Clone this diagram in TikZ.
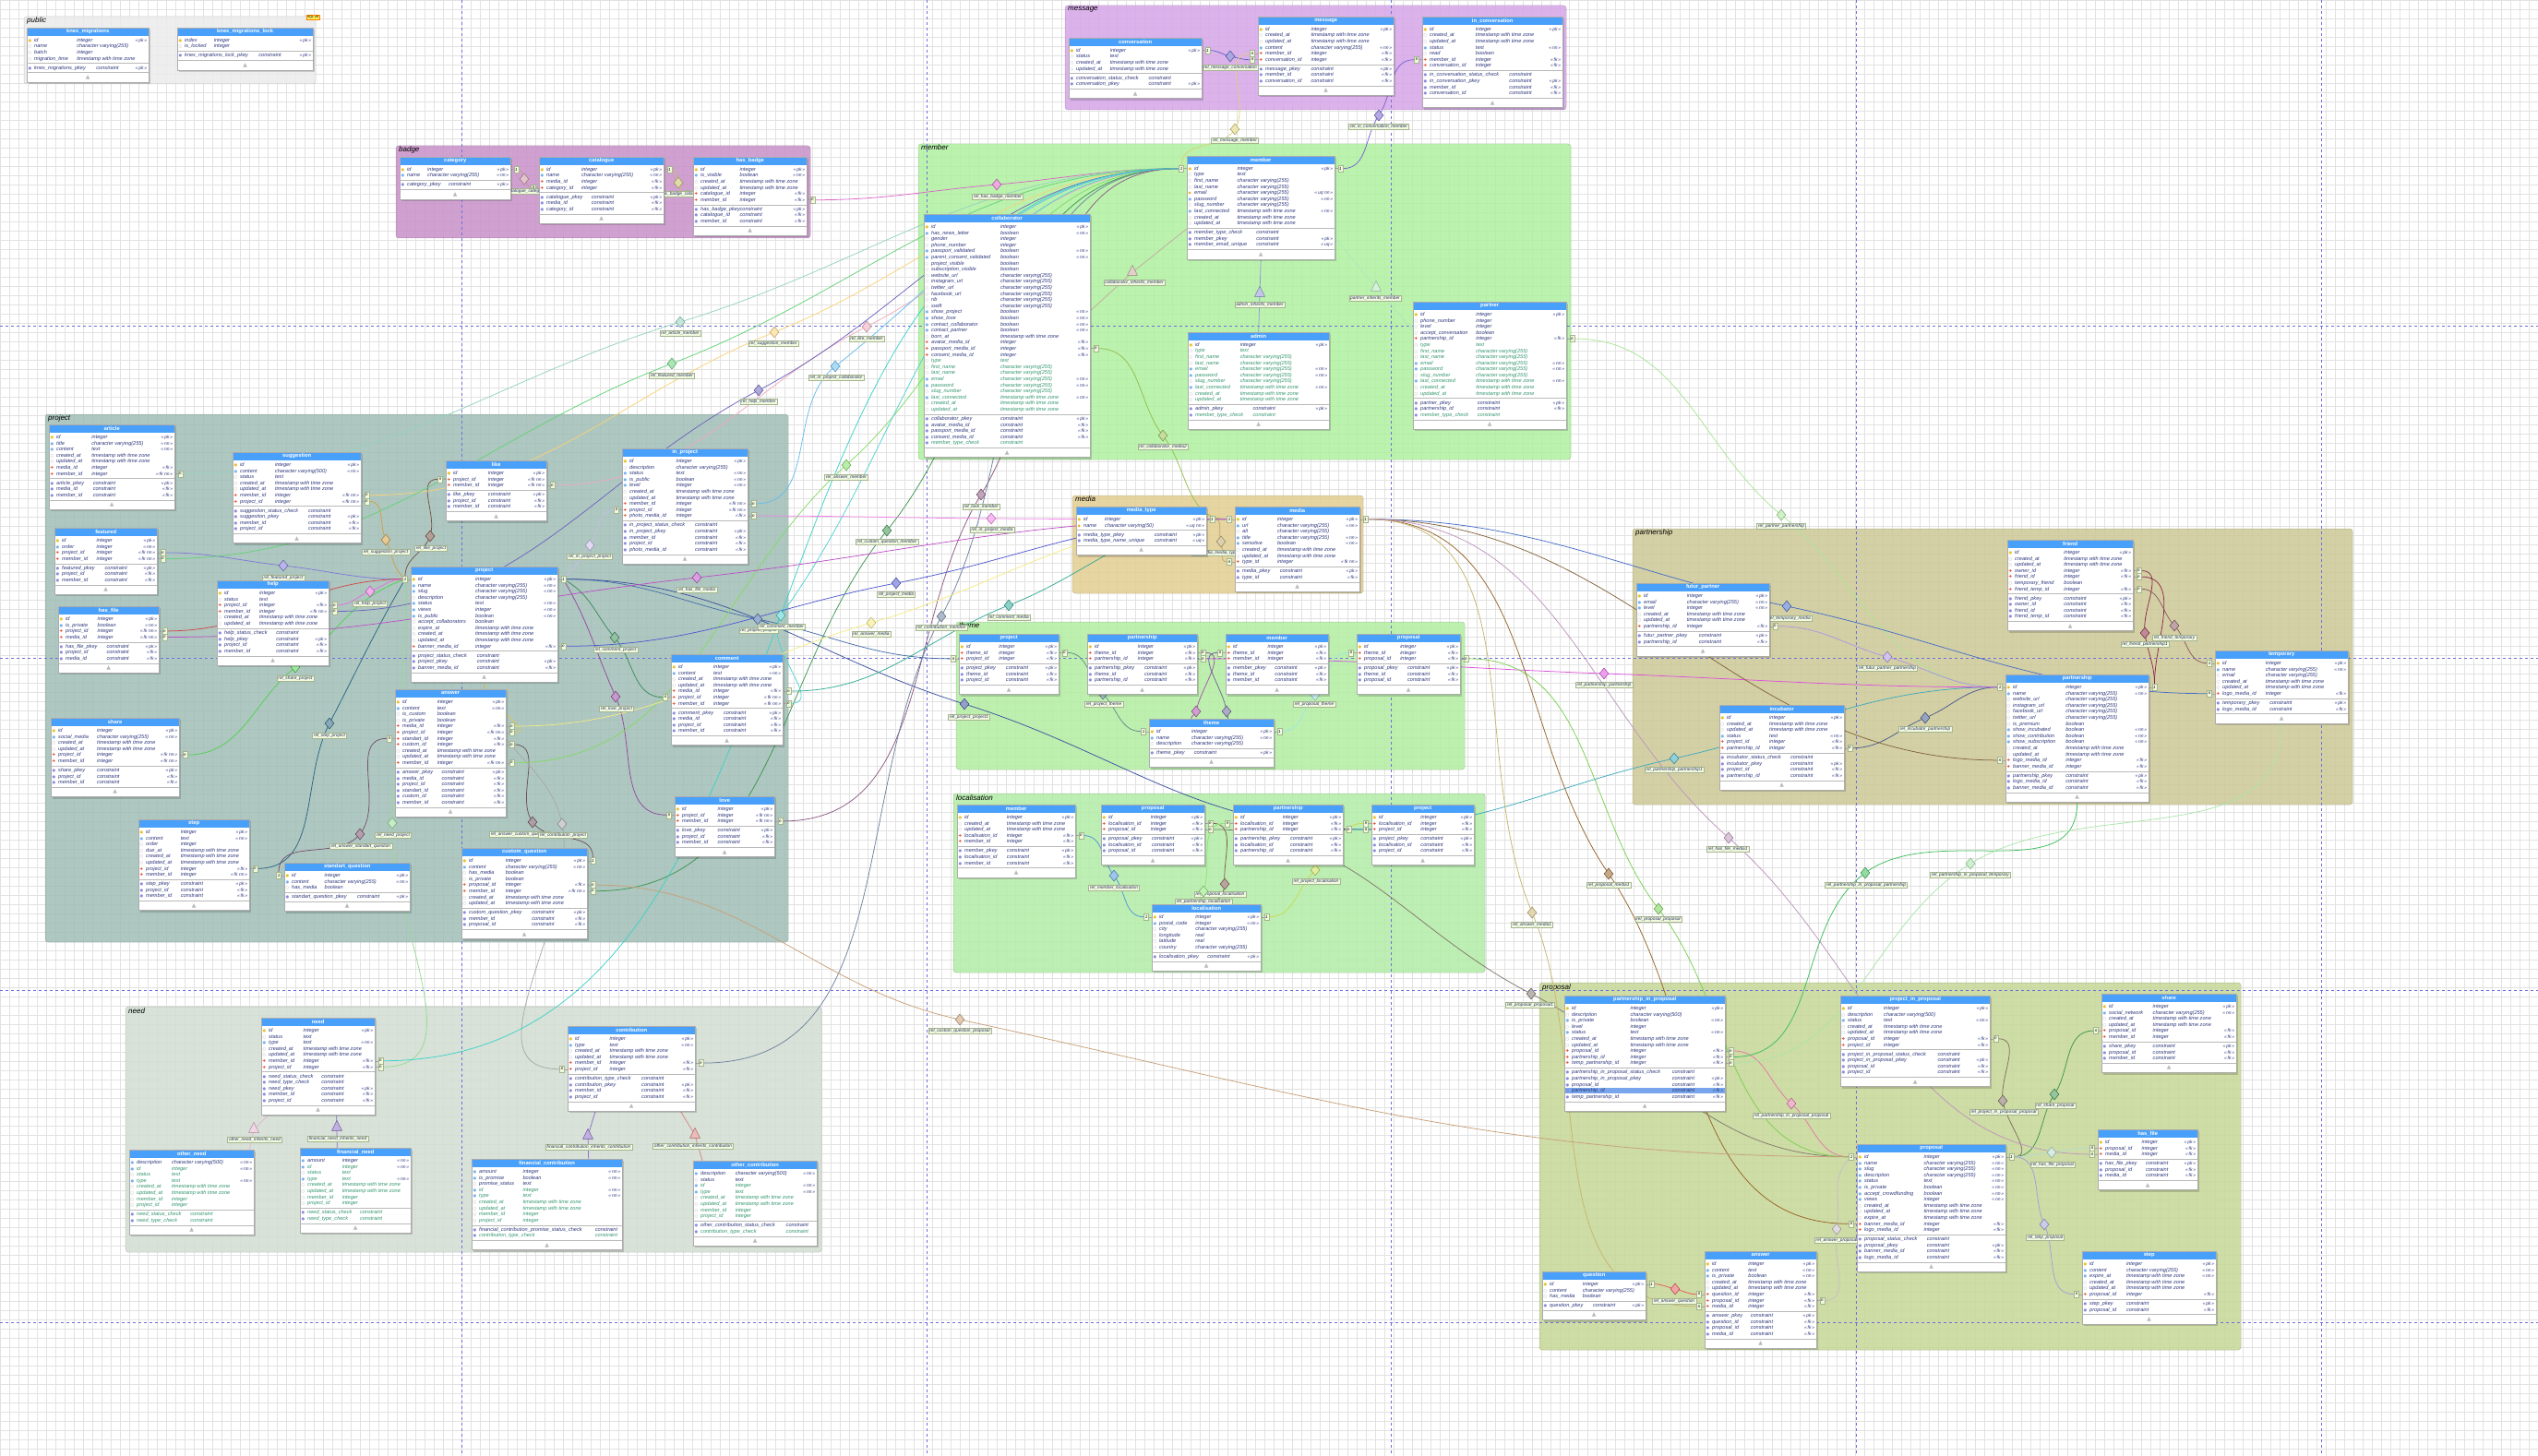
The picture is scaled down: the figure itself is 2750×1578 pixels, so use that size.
\documentclass[tikz,border=0pt]{standalone}
\usepackage{fontspec}
\setmainfont{Liberation Sans}
\newfontfamily\djf{DejaVu Sans}
\usetikzlibrary{shapes.geometric,calc}
\pgfdeclarelayer{gridl}
\pgfdeclarelayer{grp}
\pgfdeclarelayer{lines}
\pgfdeclarelayer{marks}
\pgfdeclarelayer{shad}
\pgfsetlayers{gridl,grp,lines,marks,shad,main}
\newcommand\mkcol[2]{\definecolor{#1}{RGB}{#2}}
\mkcol{hdr}{72,160,250}
\mkcol{tcol}{45,55,125}
\mkcol{grc}{50,150,110}
\mkcol{keyc}{235,195,40}
\mkcol{fkc}{230,85,55}
\mkcol{nnc}{120,180,240}
\mkcol{ordc}{160,160,160}
\mkcol{uqc}{245,170,20}
\mkcol{cnc}{140,140,225}
\mkcol{hlc}{120,165,235}
\mkcol{labf}{242,250,222}
\mkcol{labd}{165,180,145}
\mkcol{gridc}{226,226,226}
\mkcol{pagec}{110,110,220}
\mkcol{gpub}{236,236,236}
\mkcol{gbad}{200,145,200}
\mkcol{gmsg}{214,165,232}
\mkcol{gmem}{175,240,160}
\mkcol{gprj}{160,190,182}
\mkcol{gmed}{226,205,145}
\mkcol{gthm}{178,238,162}
\mkcol{gloc}{178,236,166}
\mkcol{gpsh}{205,200,150}
\mkcol{gprp}{198,215,150}
\mkcol{gned}{210,222,210}
\mkcol{c01}{200,150,160}\mkcol{c02}{200,190,100}\mkcol{c03}{220,100,200}\mkcol{c04}{100,100,200}
\mkcol{c05}{220,210,120}\mkcol{c06}{120,100,210}\mkcol{ci1}{200,170,160}\mkcol{ci2}{150,150,220}
\mkcol{ci3}{180,230,190}\mkcol{c07}{150,190,80}\mkcol{c08}{170,230,150}\mkcol{c09}{210,160,70}
\mkcol{c10}{130,120,220}\mkcol{c11}{230,110,220}\mkcol{c12}{210,70,70}\mkcol{c13}{80,210,80}
\mkcol{c14}{40,100,130}\mkcol{c15}{120,80,70}\mkcol{c16}{200,190,230}\mkcol{c17}{60,140,90}
\mkcol{c18}{150,70,160}\mkcol{c19}{70,110,170}\mkcol{c20}{60,80,160}\mkcol{c21}{150,220,150}
\mkcol{c22}{120,80,110}\mkcol{c23}{110,80,90}\mkcol{c24}{170,170,170}\mkcol{c25}{150,210,190}
\mkcol{c26}{250,210,120}\mkcol{c27}{240,170,190}\mkcol{c28}{100,210,120}\mkcol{c29}{100,190,240}
\mkcol{c30}{110,100,190}\mkcol{c31}{130,220,100}\mkcol{c32}{60,150,80}\mkcol{c33}{80,210,210}
\mkcol{c34}{140,90,130}\mkcol{c35}{110,130,160}\mkcol{c36}{60,210,200}\mkcol{c37}{220,200,80}
\mkcol{c38}{245,235,130}\mkcol{c39}{50,170,150}\mkcol{c40}{80,90,210}\mkcol{c41}{240,130,230}
\mkcol{c42}{190,80,200}\mkcol{c43}{190,170,110}\mkcol{c44}{100,140,140}\mkcol{c45}{170,80,170}
\mkcol{c46}{110,100,150}\mkcol{c47}{160,230,230}\mkcol{c48}{80,150,220}\mkcol{c49}{130,90,80}
\mkcol{c50}{140,230,120}\mkcol{c51}{200,220,80}\mkcol{c52}{170,150,230}\mkcol{c53}{70,110,200}
\mkcol{c54}{70,90,140}\mkcol{c55}{60,170,190}\mkcol{c56}{220,80,220}\mkcol{c57}{140,40,70}
\mkcol{c58}{140,90,100}\mkcol{c59}{130,100,60}\mkcol{c61}{230,120,170}\mkcol{c62}{130,110,100}
\mkcol{c63}{60,150,80}\mkcol{c64}{180,220,210}\mkcol{c65}{160,160,220}\mkcol{c66}{200,190,200}
\mkcol{c67}{230,90,90}\mkcol{c68}{130,120,110}\mkcol{c69}{120,210,80}\mkcol{c70}{150,100,40}
\mkcol{c71}{200,180,110}\mkcol{c72}{190,150,190}\mkcol{c73}{60,190,90}\mkcol{c74}{170,230,170}
\mkcol{c75}{200,160,120}\mkcol{ci4}{230,180,210}\mkcol{ci5}{140,110,200}\mkcol{ci6}{140,110,200}
\mkcol{ci7}{220,130,130}
\newlength\tW \newlength\tA \newlength\tB \newlength\tAA \newlength\tBB
\def\rcol{tcol}
\newcommand\gon[1]{{\def\rcol{grc}#1}}
\newcommand\tg[1]{\ifx\relax#1\relax\else«\,#1\,»\fi}
\newcommand\ico[2]{\makebox[6.5pt][l]{\textcolor{#1}{\djf\upshape\fontsize{4.2}{5}\selectfont#2}}}
\newcommand\rowx[5]{\hbox to\tW{\vrule height4.8pt depth1.8pt width0pt\kern1.5pt\ico{#1}{#2}\makebox[\tA][l]{\textcolor{\rcol}{#3}}\makebox[\tB][l]{\textcolor{\rcol}{#4}}\hfill{\fontsize{5}{6}\selectfont\textcolor{tcol}{\tg{#5}}}\kern2pt}}
\newcommand\rK[3]{\rowx{keyc}{\char"25CF}{#1}{#2}{#3}}
\newcommand\rN[3]{\rowx{nnc}{\char"25CF}{#1}{#2}{#3}}
\newcommand\rO[3]{\rowx{ordc}{\char"25CB}{#1}{#2}{#3}}
\newcommand\rF[3]{\rowx{fkc}{\char"271A}{#1}{#2}{#3}}
\newcommand\rU[3]{\rowx{uqc}{\char"25C6}{#1}{#2}{#3}}
\newcommand\rC[2]{\hbox to\tW{\vrule height4.8pt depth1.8pt width0pt\kern1.5pt\ico{cnc}{\char"25CF}\makebox[\tAA][l]{\textcolor{\rcol}{#1}}\makebox[\tBB][l]{\textcolor{\rcol}{constraint}}\hfill{\fontsize{5}{6}\selectfont\textcolor{tcol}{\tg{#2}}}\kern2pt}}
\newcommand\rCh[2]{\hbox{\fboxsep0pt\colorbox{hlc}{\rC{#1}{#2}}}}
\newcommand\tyI{integer}
\newcommand\tyV{character varying(255)}
\newcommand\tyW{character varying(500)}
\newcommand\tyT{timestamp with time zone}
\newcommand\tyX{text}
\newcommand\tyB{boolean}
\newcommand\tbl[9]{%
\pgfmathsetlength\tW{#4}\pgfmathsetlength\tA{#4*#5-8}\pgfmathsetlength\tB{#4*(1-#5)-22}%
\pgfmathsetlength\tAA{#4*#6-8}\pgfmathsetlength\tBB{#4*(1-#6)-22}%
\node[thead,minimum width=#4] (#1-h) at (#2,#3) {#7};
\node[tbody] (#1) at (#1-h.south west) {\vbox{\offinterlineskip#8}};
\node[tbody] (#1-c) at (#1.south west) {\vbox{\offinterlineskip#9}};
\node[tfoot,minimum width=#4] (#1-f) at (#1-c.south west) {\djf\fontsize{6}{6}\selectfont\char"25B2};
\begin{pgfonlayer}{shad}\fill[black,opacity=.16] ($(#1-h.north west)+(2,2)$) rectangle ($(#1-f.south east)+(2,2)$);\end{pgfonlayer}
\draw[tline] (#1-h.north west) rectangle (#1-f.south east);
\draw[tsep] (#1.south west) -- (#1.south east) (#1-c.south west) -- (#1-c.south east);
}
\newcommand\grp[7]{\begin{pgfonlayer}{grp}\fill[#6,rounded corners=3pt,fill opacity=.85] (#2,#3) rectangle (#4,#5);\draw[#6!70!black,rounded corners=3pt,line width=.5,opacity=.5] (#2,#3) rectangle (#4,#5);\node[glab] (#1) at (#2+3,#3+1) {#7};\end{pgfonlayer}}
\newcommand\dia[7]{\begin{pgfonlayer}{marks}\node[dmd,fill=#4!55!white,draw=#4!75!black] (#1) at (#2,#3) {};\node[rlab] (#1l) at (#6,#7) {#5};\end{pgfonlayer}}
\newcommand\dian[4]{\begin{pgfonlayer}{marks}\node[dmd,fill=#4!55!white,draw=#4!75!black] (#1) at (#2,#3) {};\end{pgfonlayer}}
\newcommand\trg[7]{\begin{pgfonlayer}{marks}\node[trgs,fill=#4!55!white,draw=#4!75!black] (#1) at (#2,#3) {};\node[rlab] (#1l) at (#6,#7) {#5};\end{pgfonlayer}}
\newcommand\mke[4]{\begin{pgfonlayer}{marks}\node[mkr] (#1) at ($(#2.north east)+(6,{1.5+(#3-0.5)*6.6})$) {#4};\draw[mks] (#1.west) -- ++(-3.5,0);\end{pgfonlayer}}
\newcommand\mkw[4]{\begin{pgfonlayer}{marks}\node[mkr] (#1) at ($(#2.north west)+(-6,{1.5+(#3-0.5)*6.6})$) {#4};\draw[mks] (#1.east) -- ++(3.5,0);\end{pgfonlayer}}
\newcommand\rel[6]{\begin{pgfonlayer}{lines}\draw[rl,#1] let \p1=(#2),\p2=(#5),\n1={atan2((\y2)-(\y1),(\x2)-(\x1))},\n2={\n1+180} in (#2) to[out=#3,in=\n2] (#4.center) to[out=\n1,in=#6] (#5);\end{pgfonlayer}}
\newcommand\reln[5]{\begin{pgfonlayer}{lines}\draw[rl,#1] (#2) to[out=#3,in=#5] (#4);\end{pgfonlayer}}
\newcommand\inh[4]{\begin{pgfonlayer}{lines}\draw[rl,#1] (#2) -- (#3.center) -- (#4);\end{pgfonlayer}}
\begin{document}
\catcode`\_=12
\newcommand\meminh{\rO{type}{\tyX}{}\rO{first_name}{\tyV}{}\rO{last_name}{\tyV}{}\rN{email}{\tyV}{nn}\rN{password}{\tyV}{nn}\rO{slug_number}{\tyV}{}\rN{last_connected}{\tyT}{nn}\rO{created_at}{\tyT}{}\rO{updated_at}{\tyT}{}}
\newcommand\needinh{\rN{id}{\tyI}{nn}\rO{status}{\tyX}{}\rN{type}{\tyX}{nn}\rO{created_at}{\tyT}{}\rO{updated_at}{\tyT}{}\rO{member_id}{\tyI}{}\rO{project_id}{\tyI}{}}
\newcommand\ctbinh{\rN{id}{\tyI}{nn}\rN{type}{\tyX}{nn}\rO{created_at}{\tyT}{}\rO{updated_at}{\tyT}{}\rO{member_id}{\tyI}{}\rO{project_id}{\tyI}{}}
\begin{tikzpicture}[x=1pt,y=-1pt,
thead/.style={rectangle,fill=hdr,text=white,font=\bfseries\fontsize{5.8}{6}\selectfont,minimum height=8.5,inner sep=0,anchor=north west},
tbody/.style={rectangle,fill=white,inner xsep=0,inner ysep=1.5,anchor=north west,font=\itshape\fontsize{5.6}{6.6}\selectfont},
tfoot/.style={rectangle,fill=white,text=gray!55,minimum height=10,inner sep=0,anchor=north west},
tline/.style={draw=gray!65,line width=.5},
tsep/.style={draw=gray!55,line width=.4},
glab/.style={anchor=north west,inner sep=0,font=\itshape\fontsize{8}{9}\selectfont},
dmd/.style={diamond,minimum width=10,minimum height=12,inner sep=0,line width=.5},
trgs/.style={isosceles triangle,shape border rotate=90,isosceles triangle stretches,minimum width=11,minimum height=11,inner sep=0,line width=.5},
rlab/.style={fill=labf,draw=labd,line width=.3,inner xsep=1.5,inner ysep=.8,font=\itshape\fontsize{4.8}{5}\selectfont,text=tcol!80!black},
mkr/.style={fill=labf,draw=labd,line width=.3,inner sep=.6,minimum width=5,minimum height=7,font=\itshape\fontsize{4.5}{5}\selectfont},
mks/.style={draw=gray!70,line width=.4},
rl/.style={line width=.75}]
\useasboundingbox (0,0) rectangle (2750,1578);
\begin{pgfonlayer}{gridl}
\fill[white] (0,0) rectangle (2750,1578);
\draw[gridc,line width=.4,step=10pt] (0,1578) grid (2750,0);
\end{pgfonlayer}
\begin{pgfonlayer}{lines}
\foreach \px in {500,1004,1507,2011,2515} {\draw[pagec,dashed,line width=.5] (\px,0) -- (\px,1578);}
\foreach \py in {353,713,1073,1433} {\draw[pagec,dashed,line width=.5] (0,\py) -- (2750,\py);}
\end{pgfonlayer}
% groups
\grp{Gpub}{26}{18}{342}{91}{gpub}{public}
\grp{Gbad}{429}{158}{878}{258}{gbad}{badge}
\grp{Gmsg}{1154}{6}{1697}{119}{gmsg}{message}
\grp{Gmem}{995}{156}{1702}{498}{gmem}{member}
\grp{Gprj}{49}{449}{854}{1021}{gprj}{project}
\grp{Gmed}{1162}{537}{1477}{643}{gmed}{media}
\grp{Gthm}{1036}{674}{1587}{834}{gthm}{theme}
\grp{Gloc}{1033}{860}{1609}{1054}{gloc}{localisation}
\grp{Gpsh}{1769}{573}{2549}{872}{gpsh}{partnership}
\grp{Gprp}{1668}{1065}{2428}{1463}{gprp}{proposal}
\grp{Gned}{136}{1091}{890}{1357}{gned}{need}
\node[fill={rgb,255:red,250;green,235;blue,90},draw=orange,font=\fontsize{3.5}{4}\selectfont,inner sep=.8pt] (sqloff) at (339,18.5) {SQL off};
% ---------- public / badge / message
\tbl{kx}{29}{30}{132}{0.41}{0.57}{knex_migrations}{\rK{id}{\tyI}{pk}\rO{name}{\tyV}{}\rO{batch}{\tyI}{}\rO{migration_time}{\tyT}{}}{\rC{knex_migrations_pkey}{pk}}
\tbl{kxl}{192}{30}{147}{0.27}{0.6}{knex_migrations_lock}{\rK{index}{\tyI}{pk}\rO{is_locked}{\tyI}{}}{\rC{knex_migrations_lock_pkey}{pk}}
\tbl{cat}{433}{170}{120}{0.25}{0.44}{category}{\rK{id}{\tyI}{pk}\rN{name}{\tyV}{nn}}{\rC{category_pkey}{pk}}
\tbl{ctl}{584}{170}{135}{0.34}{0.42}{catalogue}{\rK{id}{\tyI}{pk}\rN{name}{\tyV}{nn}\rF{media_id}{\tyI}{fk}\rF{category_id}{\tyI}{fk}}{\rC{catalogue_pkey}{pk}\rC{media_id}{fk}\rC{category_id}{fk}}
\tbl{hb}{751}{170}{123}{0.41}{0.41}{has_badge}{\rK{id}{\tyI}{pk}\rN{is_visible}{\tyB}{nn}\rO{created_at}{\tyT}{}\rO{updated_at}{\tyT}{}\rF{catalogue_id}{\tyI}{fk}\rF{member_id}{\tyI}{fk}}{\rC{has_badge_pkey}{pk}\rC{catalogue_id}{fk}\rC{member_id}{fk}}
\tbl{conv}{1158}{41}{144}{0.31}{0.6}{conversation}{\rK{id}{\tyI}{pk}\rO{status}{\tyX}{}\rO{created_at}{\tyT}{}\rO{updated_at}{\tyT}{}}{\rC{conversation_status_check}{}\rC{conversation_pkey}{pk}}
\tbl{msg}{1363}{18}{147}{0.39}{0.39}{message}{\rK{id}{\tyI}{pk}\rO{created_at}{\tyT}{}\rO{updated_at}{\tyT}{}\rN{content}{\tyV}{nn}\rF{member_id}{\tyI}{fk}\rF{conversation_id}{\tyI}{fk}}{\rC{message_pkey}{pk}\rC{member_id}{fk}\rC{conversation_id}{fk}}
\tbl{inc}{1541}{18}{152}{0.38}{0.62}{in_conversation}{\rK{id}{\tyI}{pk}\rO{created_at}{\tyT}{}\rO{updated_at}{\tyT}{}\rN{status}{\tyX}{nn}\rO{read}{\tyB}{}\rF{member_id}{\tyI}{fk}\rF{conversation_id}{\tyI}{fk}}{\rC{in_conversation_status_check}{}\rC{in_conversation_pkey}{pk}\rC{member_id}{fk}\rC{conversation_id}{fk}}
% ---------- member
\tbl{mem}{1286}{169}{160}{0.34}{0.47}{member}{\rK{id}{\tyI}{pk}\rO{type}{\tyX}{}\rO{first_name}{\tyV}{}\rO{last_name}{\tyV}{}\rU{email}{\tyV}{uq nn}\rN{password}{\tyV}{nn}\rO{slug_number}{\tyV}{}\rN{last_connected}{\tyT}{nn}\rO{created_at}{\tyT}{}\rO{updated_at}{\tyT}{}}{\rC{member_type_check}{}\rC{member_pkey}{pk}\rC{member_email_unique}{uq}}
\tbl{col}{1001}{232}{180}{0.46}{0.46}{collaborator}{\rK{id}{\tyI}{pk}\rN{has_news_letter}{\tyB}{nn}\rO{gender}{\tyI}{}\rO{phone_number}{\tyI}{}\rN{passport_validated}{\tyB}{nn}\rN{parent_consent_validated}{\tyB}{nn}\rO{project_visible}{\tyB}{}\rO{subscription_visible}{\tyB}{}\rO{website_url}{\tyV}{}\rO{instagram_url}{\tyV}{}\rO{twitter_url}{\tyV}{}\rO{facebook_url}{\tyV}{}\rO{rib}{\tyV}{}\rO{swift}{\tyV}{}\rN{show_project}{\tyB}{nn}\rN{show_love}{\tyB}{nn}\rN{contact_collaborator}{\tyB}{nn}\rN{contact_partner}{\tyB}{nn}\rO{born_at}{\tyT}{}\rF{avatar_media_id}{\tyI}{fk}\rF{passport_media_id}{\tyI}{fk}\rF{consent_media_id}{\tyI}{fk}\gon{\meminh}}{\rC{collaborator_pkey}{pk}\rC{avatar_media_id}{fk}\rC{passport_media_id}{fk}\rC{consent_media_id}{fk}\gon{\rC{member_type_check}{}}}
\tbl{adm}{1287}{360}{153}{0.37}{0.46}{admin}{\rK{id}{\tyI}{pk}\gon{\meminh}}{\rC{admin_pkey}{pk}\gon{\rC{member_type_check}{}}}
\tbl{ptn}{1531}{327}{166}{0.41}{0.42}{partner}{\rK{id}{\tyI}{pk}\rO{phone_number}{\tyI}{}\rO{level}{\tyI}{}\rO{accept_conversation}{\tyB}{}\rF{partnership_id}{\tyI}{fk}\gon{\meminh}}{\rC{partner_pkey}{pk}\rC{partnership_id}{fk}\gon{\rC{member_type_check}{}}}
% ---------- project
\tbl{art}{53}{460}{136}{0.34}{0.35}{article}{\rK{id}{\tyI}{pk}\rN{title}{\tyV}{nn}\rN{content}{\tyX}{nn}\rO{created_at}{\tyT}{}\rO{updated_at}{\tyT}{}\rF{media_id}{\tyI}{fk}\rF{member_id}{\tyI}{fk nn}}{\rC{article_pkey}{pk}\rC{media_id}{fk}\rC{member_id}{fk}}
\tbl{sug}{252}{490}{139}{0.33}{0.59}{suggestion}{\rK{id}{\tyI}{pk}\rN{content}{\tyW}{nn}\rO{status}{\tyX}{}\rO{created_at}{\tyT}{}\rO{updated_at}{\tyT}{}\rF{member_id}{\tyI}{fk nn}\rF{project_id}{\tyI}{fk nn}}{\rC{suggestion_status_check}{}\rC{suggestion_pkey}{pk}\rC{member_id}{fk}\rC{project_id}{fk}}
\tbl{fea}{59}{572}{111}{0.41}{0.49}{featured}{\rK{id}{\tyI}{pk}\rN{order}{\tyI}{nn}\rF{project_id}{\tyI}{fk nn}\rF{member_id}{\tyI}{fk nn}}{\rC{featured_pkey}{pk}\rC{project_id}{fk}\rC{member_id}{fk}}
\tbl{hf}{63}{657}{109}{0.39}{0.48}{has_file}{\rK{id}{\tyI}{pk}\rN{is_private}{\tyB}{nn}\rF{project_id}{\tyI}{fk nn}\rF{media_id}{\tyI}{fk nn}}{\rC{has_file_pkey}{pk}\rC{project_id}{fk}\rC{media_id}{fk}}
\tbl{hlp}{235}{629}{121}{0.38}{0.53}{help}{\rK{id}{\tyI}{pk}\rO{status}{\tyX}{}\rF{project_id}{\tyI}{fk}\rF{member_id}{\tyI}{fk nn}\rO{created_at}{\tyT}{}\rO{updated_at}{\tyT}{}}{\rC{help_status_check}{}\rC{help_pkey}{pk}\rC{project_id}{fk}\rC{member_id}{fk}}
\tbl{shr}{55}{778}{139}{0.36}{0.36}{share}{\rK{id}{\tyI}{pk}\rN{social_media}{\tyV}{nn}\rO{created_at}{\tyT}{}\rO{updated_at}{\tyT}{}\rF{project_id}{\tyI}{fk nn}\rF{member_id}{\tyI}{fk nn}}{\rC{share_pkey}{pk}\rC{project_id}{fk}\rC{member_id}{fk}}
\tbl{stp}{150}{888}{120}{0.38}{0.38}{step}{\rK{id}{\tyI}{pk}\rN{content}{\tyX}{nn}\rO{order}{\tyI}{}\rO{due_at}{\tyT}{}\rO{created_at}{\tyT}{}\rO{updated_at}{\tyT}{}\rF{project_id}{\tyI}{fk}\rF{member_id}{\tyI}{fk nn}}{\rC{step_pkey}{pk}\rC{project_id}{fk}\rC{member_id}{fk}}
\tbl{sq}{308}{935}{136}{0.32}{0.58}{standart_question}{\rK{id}{\tyI}{pk}\rN{content}{\tyV}{nn}\rO{has_media}{\tyB}{}}{\rC{standart_question_pkey}{pk}}
\tbl{lik}{483}{499}{109}{0.42}{0.42}{like}{\rK{id}{\tyI}{pk}\rF{project_id}{\tyI}{fk nn}\rF{member_id}{\tyI}{fk nn}}{\rC{like_pkey}{pk}\rC{project_id}{fk}\rC{member_id}{fk}}
\tbl{inp}{674}{486}{136}{0.43}{0.58}{in_project}{\rK{id}{\tyI}{pk}\rO{description}{\tyV}{}\rN{status}{\tyX}{nn}\rN{is_public}{\tyB}{nn}\rN{level}{\tyI}{nn}\rO{created_at}{\tyT}{}\rO{updated_at}{\tyT}{}\rF{member_id}{\tyI}{fk nn}\rF{project_id}{\tyI}{fk nn}\rF{photo_media_id}{\tyI}{fk}}{\rC{in_project_status_check}{}\rC{in_project_pkey}{pk}\rC{member_id}{fk}\rC{project_id}{fk}\rC{photo_media_id}{fk}}
\tbl{prj}{445}{614}{159}{0.44}{0.45}{project}{\rK{id}{\tyI}{pk}\rN{name}{\tyV}{nn}\rN{slug}{\tyV}{nn}\rO{description}{\tyV}{}\rN{status}{\tyX}{nn}\rN{views}{\tyI}{nn}\rN{is_public}{\tyB}{nn}\rO{accept_collaborators}{\tyB}{}\rO{expire_at}{\tyT}{}\rO{created_at}{\tyT}{}\rO{updated_at}{\tyT}{}\rF{banner_media_id}{\tyI}{fk}}{\rC{project_status_check}{}\rC{project_pkey}{pk}\rC{banner_media_id}{fk}}
\tbl{ans}{428}{747}{120}{0.38}{0.42}{answer}{\rK{id}{\tyI}{pk}\rN{content}{\tyX}{nn}\rO{is_custom}{\tyB}{}\rO{is_private}{\tyB}{}\rF{media_id}{\tyI}{fk}\rF{project_id}{\tyI}{fk nn}\rF{standart_id}{\tyI}{fk}\rF{custom_id}{\tyI}{fk}\rO{created_at}{\tyT}{}\rO{updated_at}{\tyT}{}\rF{member_id}{\tyI}{fk nn}}{\rC{answer_pkey}{pk}\rC{media_id}{fk}\rC{project_id}{fk}\rC{standart_id}{fk}\rC{custom_id}{fk}\rC{member_id}{fk}}
\tbl{cmt}{727}{709}{121}{0.38}{0.47}{comment}{\rK{id}{\tyI}{pk}\rN{content}{\tyX}{nn}\rO{created_at}{\tyT}{}\rO{updated_at}{\tyT}{}\rF{media_id}{\tyI}{fk}\rF{project_id}{\tyI}{fk nn}\rF{member_id}{\tyI}{fk nn}}{\rC{comment_pkey}{pk}\rC{media_id}{fk}\rC{project_id}{fk}\rC{member_id}{fk}}
\tbl{lov}{731}{863}{108}{0.43}{0.43}{love}{\rK{id}{\tyI}{pk}\rF{project_id}{\tyI}{fk nn}\rF{member_id}{\tyI}{fk nn}}{\rC{love_pkey}{pk}\rC{project_id}{fk}\rC{member_id}{fk}}
\tbl{cq}{500}{919}{136}{0.35}{0.56}{custom_question}{\rK{id}{\tyI}{pk}\rN{content}{\tyV}{nn}\rO{has_media}{\tyB}{}\rO{is_private}{\tyB}{}\rF{proposal_id}{\tyI}{fk}\rF{member_id}{\tyI}{fk nn}\rO{created_at}{\tyT}{}\rO{updated_at}{\tyT}{}}{\rC{custom_question_pkey}{pk}\rC{member_id}{fk}\rC{proposal_id}{fk}}
% ---------- media / theme / localisation
\tbl{mt}{1166}{549}{141}{0.22}{0.6}{media_type}{\rK{id}{\tyI}{pk}\rU{name}{character varying(50)}{uq nn}}{\rC{media_type_pkey}{pk}\rC{media_type_name_unique}{uq}}
\tbl{med}{1338}{549}{135}{0.34}{0.36}{media}{\rK{id}{\tyI}{pk}\rN{url}{\tyV}{nn}\rO{alt}{\tyV}{}\rN{title}{\tyV}{nn}\rN{sensitive}{\tyB}{nn}\rO{created_at}{\tyT}{}\rO{updated_at}{\tyT}{}\rF{type_id}{\tyI}{fk nn}}{\rC{media_pkey}{pk}\rC{type_id}{fk}}
\tbl{tprj}{1039}{687}{108}{0.40}{0.47}{project}{\rK{id}{\tyI}{pk}\rF{theme_id}{\tyI}{fk}\rF{project_id}{\tyI}{fk}}{\rC{project_pkey}{pk}\rC{theme_id}{fk}\rC{project_id}{fk}}
\tbl{tpsh}{1178}{687}{119}{0.46}{0.52}{partnership}{\rK{id}{\tyI}{pk}\rF{theme_id}{\tyI}{fk}\rF{partnership_id}{\tyI}{fk}}{\rC{partnership_pkey}{pk}\rC{theme_id}{fk}\rC{partnership_id}{fk}}
\tbl{tmem}{1328}{687}{111}{0.41}{0.48}{member}{\rK{id}{\tyI}{pk}\rF{theme_id}{\tyI}{fk}\rF{member_id}{\tyI}{fk}}{\rC{member_pkey}{pk}\rC{theme_id}{fk}\rC{member_id}{fk}}
\tbl{tprop}{1470}{687}{112}{0.42}{0.49}{proposal}{\rK{id}{\tyI}{pk}\rF{theme_id}{\tyI}{fk}\rF{proposal_id}{\tyI}{fk}}{\rC{proposal_pkey}{pk}\rC{theme_id}{fk}\rC{proposal_id}{fk}}
\tbl{thm}{1245}{779}{135}{0.34}{0.36}{theme}{\rK{id}{\tyI}{pk}\rN{name}{\tyV}{nn}\rO{description}{\tyV}{}}{\rC{theme_pkey}{pk}}
\tbl{lmem}{1037}{872}{128}{0.42}{0.42}{member}{\rK{id}{\tyI}{pk}\rO{created_at}{\tyT}{}\rO{updated_at}{\tyT}{}\rF{localisation_id}{\tyI}{fk}\rF{member_id}{\tyI}{fk}}{\rC{member_pkey}{pk}\rC{localisation_id}{fk}\rC{member_id}{fk}}
\tbl{lprop}{1193}{872}{112}{0.48}{0.49}{proposal}{\rK{id}{\tyI}{pk}\rF{localisation_id}{\tyI}{fk}\rF{proposal_id}{\tyI}{fk}}{\rC{proposal_pkey}{pk}\rC{localisation_id}{fk}\rC{proposal_id}{fk}}
\tbl{lpsh}{1336}{872}{119}{0.45}{0.52}{partnership}{\rK{id}{\tyI}{pk}\rF{localisation_id}{\tyI}{fk}\rF{partnership_id}{\tyI}{fk}}{\rC{partnership_pkey}{pk}\rC{localisation_id}{fk}\rC{partnership_id}{fk}}
\tbl{lprj}{1486}{872}{111}{0.48}{0.48}{project}{\rK{id}{\tyI}{pk}\rF{localisation_id}{\tyI}{fk}\rF{project_id}{\tyI}{fk}}{\rC{project_pkey}{pk}\rC{localisation_id}{fk}\rC{project_id}{fk}}
\tbl{loc}{1248}{980}{118}{0.40}{0.51}{localisation}{\rK{id}{\tyI}{pk}\rN{postal_code}{\tyI}{nn}\rO{city}{\tyV}{}\rO{longitude}{real}{}\rO{latitude}{real}{}\rO{country}{\tyV}{}}{\rC{localisation_pkey}{pk}}
% ---------- partnership
\tbl{fut}{1773}{632}{144}{0.38}{0.47}{futur_partner}{\rK{id}{\tyI}{pk}\rN{email}{\tyV}{nn}\rN{level}{\tyI}{nn}\rO{created_at}{\tyT}{}\rO{updated_at}{\tyT}{}\rF{partnership_id}{\tyI}{fk}}{\rC{futur_partner_pkey}{pk}\rC{partnership_id}{fk}}
\tbl{frd}{2175}{585}{136}{0.45}{0.45}{friend}{\rK{id}{\tyI}{pk}\rO{created_at}{\tyT}{}\rO{updated_at}{\tyT}{}\rF{owner_id}{\tyI}{fk}\rF{friend_id}{\tyI}{fk}\rO{temporary_friend}{\tyB}{}\rF{friend_temp_id}{\tyI}{fk}}{\rC{friend_pkey}{pk}\rC{owner_id}{fk}\rC{friend_id}{fk}\rC{friend_temp_id}{fk}}
\tbl{tmp}{2400}{705}{144}{0.38}{0.41}{temporary}{\rK{id}{\tyI}{pk}\rN{name}{\tyV}{nn}\rO{email}{\tyV}{}\rO{created_at}{\tyT}{}\rO{updated_at}{\tyT}{}\rF{logo_media_id}{\tyI}{fk}}{\rC{temporary_pkey}{pk}\rC{logo_media_id}{fk}}
\tbl{psh}{2173}{731}{155}{0.42}{0.42}{partnership}{\rK{id}{\tyI}{pk}\rN{name}{\tyV}{nn}\rO{website_url}{\tyV}{}\rO{instagram_url}{\tyV}{}\rO{facebook_url}{\tyV}{}\rO{twitter_url}{\tyV}{}\rO{is_premium}{\tyB}{}\rN{show_incubated}{\tyB}{nn}\rN{show_contribution}{\tyB}{nn}\rN{show_subscription}{\tyB}{nn}\rO{created_at}{\tyT}{}\rO{updated_at}{\tyT}{}\rF{logo_media_id}{\tyI}{fk}\rF{banner_media_id}{\tyI}{fk}}{\rC{partnership_pkey}{pk}\rC{logo_media_id}{fk}\rC{banner_media_id}{fk}}
\tbl{incb}{1863}{764}{135}{0.40}{0.57}{incubator}{\rK{id}{\tyI}{pk}\rO{created_at}{\tyT}{}\rO{updated_at}{\tyT}{}\rN{status}{\tyX}{nn}\rF{project_id}{\tyI}{fk}\rF{partnership_id}{\tyI}{fk}}{\rC{incubator_status_check}{}\rC{incubator_pkey}{pk}\rC{project_id}{fk}\rC{partnership_id}{fk}}
% ---------- proposal
\tbl{pip}{1695}{1079}{174}{0.41}{0.67}{partnership_in_proposal}{\rK{id}{\tyI}{pk}\rO{description}{\tyW}{}\rN{is_private}{\tyB}{nn}\rO{level}{\tyI}{}\rN{status}{\tyX}{nn}\rO{created_at}{\tyT}{}\rO{updated_at}{\tyT}{}\rF{proposal_id}{\tyI}{fk}\rF{partnership_id}{\tyI}{fk}\rF{temp_partnership_id}{\tyI}{fk}}{\rC{partnership_in_proposal_status_check}{}\rC{partnership_in_proposal_pkey}{pk}\rC{proposal_id}{fk}\rCh{partnership_id}{fk}\rC{temp_partnership_id}{fk}}
\tbl{pipr}{1994}{1079}{162}{0.29}{0.65}{project_in_proposal}{\rK{id}{\tyI}{pk}\rO{description}{\tyW}{}\rN{status}{\tyX}{nn}\rO{created_at}{\tyT}{}\rO{updated_at}{\tyT}{}\rF{proposal_id}{\tyI}{fk}\rF{project_id}{\tyI}{fk}}{\rC{project_in_proposal_status_check}{}\rC{project_in_proposal_pkey}{pk}\rC{proposal_id}{fk}\rC{project_id}{fk}}
\tbl{pshr}{2277}{1077}{146}{0.38}{0.38}{share}{\rK{id}{\tyI}{pk}\rN{social_network}{\tyV}{nn}\rO{created_at}{\tyT}{}\rO{updated_at}{\tyT}{}\rF{proposal_id}{\tyI}{fk}\rF{member_id}{\tyI}{fk}}{\rC{share_pkey}{pk}\rC{proposal_id}{fk}\rC{member_id}{fk}}
\tbl{phf}{2273}{1224}{108}{0.44}{0.48}{has_file}{\rK{id}{\tyI}{pk}\rF{proposal_id}{\tyI}{fk}\rF{media_id}{\tyI}{fk}}{\rC{has_file_pkey}{pk}\rC{proposal_id}{fk}\rC{media_id}{fk}}
\tbl{prop}{2012}{1240}{161}{0.45}{0.47}{proposal}{\rK{id}{\tyI}{pk}\rN{name}{\tyV}{nn}\rN{slug}{\tyV}{nn}\rN{description}{\tyV}{nn}\rN{status}{\tyX}{nn}\rN{is_private}{\tyB}{nn}\rN{accept_crowdfunding}{\tyB}{nn}\rN{views}{\tyI}{nn}\rO{created_at}{\tyT}{}\rO{updated_at}{\tyT}{}\rO{expire_at}{\tyT}{}\rF{banner_media_id}{\tyI}{fk}\rF{logo_media_id}{\tyI}{fk}}{\rC{proposal_status_check}{}\rC{proposal_pkey}{pk}\rC{banner_media_id}{fk}\rC{logo_media_id}{fk}}
\tbl{pans}{1847}{1356}{121}{0.39}{0.41}{answer}{\rK{id}{\tyI}{pk}\rN{content}{\tyX}{nn}\rN{is_private}{\tyB}{nn}\rO{created_at}{\tyT}{}\rO{updated_at}{\tyT}{}\rF{question_id}{\tyI}{fk}\rF{proposal_id}{\tyI}{fk}\rF{media_id}{\tyI}{fk}}{\rC{answer_pkey}{pk}\rC{question_id}{fk}\rC{proposal_id}{fk}\rC{media_id}{fk}}
\tbl{que}{1671}{1378}{112}{0.39}{0.49}{question}{\rK{id}{\tyI}{pk}\rO{content}{\tyV}{}\rO{has_media}{\tyB}{}}{\rC{question_pkey}{pk}}
\tbl{pstp}{2256}{1356}{145}{0.33}{0.33}{step}{\rK{id}{\tyI}{pk}\rN{content}{\tyV}{nn}\rN{expire_at}{\tyT}{nn}\rO{created_at}{\tyT}{}\rO{updated_at}{\tyT}{}\rF{proposal_id}{\tyI}{fk}}{\rC{step_pkey}{pk}\rC{proposal_id}{fk}}
% ---------- need
\tbl{need}{283}{1103}{123}{0.37}{0.53}{need}{\rK{id}{\tyI}{pk}\rO{status}{\tyX}{}\rN{type}{\tyX}{nn}\rO{created_at}{\tyT}{}\rO{updated_at}{\tyT}{}\rF{member_id}{\tyI}{fk}\rF{project_id}{\tyI}{fk}}{\rC{need_status_check}{}\rC{need_type_check}{}\rC{need_pkey}{pk}\rC{member_id}{fk}\rC{project_id}{fk}}
\tbl{ctb}{615}{1112}{138}{0.33}{0.58}{contribution}{\rK{id}{\tyI}{pk}\rN{type}{\tyX}{nn}\rO{created_at}{\tyT}{}\rO{updated_at}{\tyT}{}\rF{member_id}{\tyI}{fk}\rF{project_id}{\tyI}{fk}}{\rC{contribution_type_check}{}\rC{contribution_pkey}{pk}\rC{member_id}{fk}\rC{project_id}{fk}}
\tbl{onee}{140}{1246}{135}{0.34}{0.49}{other_need}{\rN{description}{\tyW}{nn}\gon{\needinh}}{\gon{\rC{need_status_check}{}\rC{need_type_check}{}}}
\tbl{fnee}{325}{1244}{120}{0.38}{0.54}{financial_need}{\rN{amount}{\tyI}{nn}\gon{\needinh}}{\gon{\rC{need_status_check}{}\rC{need_type_check}{}}}
\tbl{fctb}{511}{1256}{163}{0.34}{0.82}{financial_contribution}{\rN{amount}{\tyI}{nn}\rN{is_promise}{\tyB}{nn}\rO{promise_status}{\tyX}{}\gon{\ctbinh}}{\rC{financial_contribution_promise_status_check}{}\gon{\rC{contribution_type_check}{}}}
\tbl{octb}{751}{1258}{134}{0.34}{0.75}{other_contribution}{\rN{description}{\tyW}{nn}\rO{status}{\tyX}{}\gon{\ctbinh}}{\rC{other_contribution_status_check}{}\gon{\rC{contribution_type_check}{}}}
% ---------- parent markers
\mkw{m1w}{mem}{1}{1}\mke{m1e}{mem}{1}{1}
\mke{conv1}{conv}{1}{1}\mke{cat1}{cat}{1}{1}\mke{ctl1}{ctl}{1}{1}
\mkw{p1w}{prj}{1}{1}\mke{p1e}{prj}{1}{1}
\mkw{md1w}{med}{1}{1}\mke{md1e}{med}{1}{1}\mke{mt1}{mt}{1}{1}
\mkw{thw}{thm}{1}{1}\mke{the}{thm}{1}{1}
\mkw{low}{loc}{1}{1}\mke{loe}{loc}{1}{1}
\mkw{pa1w}{psh}{1}{1}\mke{pa1e}{psh}{1}{1}\mkw{tp1w}{tmp}{1}{1}
\mkw{pr1w}{prop}{1}{1}\mke{pr1e}{prop}{1}{1}\mke{q1e}{que}{1}{1}
\mkw{sq1w}{sq}{1}{1}\mke{cq1e}{cq}{1}{1}
% ---------- child markers
\mkw{r1}{ctl}{4}{n}\mkw{r2}{hb}{5}{n}\mke{r3}{hb}{6}{n}
\mkw{r4}{msg}{6}{n}\mkw{r5}{msg}{5}{n}\mkw{r6}{inc}{6}{n}
\mke{r7}{col}{21}{n}\mke{r8}{ptn}{5}{n}
\mke{r9}{sug}{7}{n}\mke{r10}{fea}{3}{n}\mke{r11}{hlp}{3}{n}\mke{r12}{hf}{3}{n}
\mke{r13}{shr}{5}{n}\mke{r14}{stp}{7}{n}\mkw{r15}{lik}{2}{n}\mkw{r16}{inp}{9}{n}
\mkw{r17}{cmt}{6}{n}\mkw{r18}{lov}{2}{n}\mkw{r19}{tprj}{3}{n}\mkw{r20}{lprj}{3}{n}
\mke{r21}{need}{7}{n}\mkw{r22}{ans}{7}{n}\mke{r23}{ans}{8}{n}\mkw{r24}{ctb}{6}{n}
\mke{r25}{art}{7}{n}\mke{r26}{sug}{6}{n}\mke{r27}{lik}{3}{n}\mke{r28}{fea}{4}{n}
\mke{r29}{inp}{8}{n}\mke{r30}{hlp}{4}{n}\mke{r31}{ans}{11}{n}\mke{r32}{cq}{6}{n}
\mke{r33}{cmt}{7}{n}\mke{r34}{lov}{3}{n}\mke{r35}{ctb}{5}{n}\mke{r36}{need}{6}{n}
\mke{r37}{ans}{6}{n}\mke{r38}{ans}{5}{n}\mke{r39}{cmt}{5}{n}\mke{r40}{prj}{12}{n}
\mke{r41}{inp}{10}{n}\mke{r42}{hf}{4}{n}\mkw{r43}{med}{8}{n}
\mke{r44}{tprj}{2}{n}\mke{r45}{tpsh}{2}{n}\mkw{r46}{tmem}{2}{n}\mkw{r47}{tprop}{2}{n}
\mke{r48}{lmem}{4}{n}\mke{r49}{lprop}{2}{n}\mkw{r50}{lpsh}{2}{n}\mkw{r51}{lprj}{2}{n}
\mke{r52}{fut}{6}{n}\mkw{r53}{tmp}{6}{n}\mke{r54}{incb}{6}{n}\mke{r55}{lpsh}{3}{n}
\mke{r56}{tpsh}{3}{n}\mke{r57}{frd}{4}{n}\mke{r58}{frd}{7}{n}\mkw{r59}{psh}{13}{n}\mke{r60}{frd}{5}{n}
\mke{r61}{pip}{8}{n}\mke{r62}{pipr}{6}{n}\mkw{r63}{pshr}{5}{n}\mkw{r64}{phf}{2}{n}
\mkw{r65}{pstp}{6}{n}\mke{r66}{pans}{7}{n}\mkw{r67}{pans}{6}{n}\mke{r68}{lprop}{3}{n}
\mke{r69}{tprop}{3}{n}\mkw{r70}{prop}{12}{n}\mkw{r71}{pans}{8}{n}\mkw{r72}{phf}{3}{n}
\mke{r73}{pip}{9}{n}\mke{r74}{pip}{10}{n}\mke{r75}{cq}{5}{n}
% ---------- helper coordinates
\coordinate (i1c) at ($(col.north east)+(0,96)$);
\coordinate (i1p) at ($(mem.north west)+(0,70)$);
\coordinate (i3c) at ($(ptn.north west)+(0,22)$);
\coordinate (i3p) at ($(mem.north east)+(0,80)$);
\coordinate (c45p) at ($(thm-h.north)+(-22,0)$);
\coordinate (c46p) at ($(thm-h.north)+(18,0)$);
\coordinate (c49p) at ($(loc-h.north)+(12,0)$);
\coordinate (c50p) at ($(loc-h.north)+(-8,0)$);
\coordinate (i4c) at ($(onee-h.north east)+(-5,0)$);
\coordinate (i4p) at ($(need-f.south west)+(8,0)$);
\coordinate (i5c) at ($(fnee-h.north)+(-20,0)$);
\coordinate (i5p) at ($(need-f.south)+(20,0)$);
\coordinate (i6c) at ($(fctb-h.north)+(45,0)$);
\coordinate (i6p) at ($(ctb-f.south)+(-39,0)$);
\coordinate (i7c) at ($(octb-h.north west)+(10,0)$);
\coordinate (i7p) at ($(ctb-f.south)+(53,0)$);
% ---------- diamonds and labels
\dia{d1}{568}{194}{c01}{rel_catalogue_category}{566}{207}
\dia{d2}{735}{198}{c02}{rel_has_badge_catalogue}{735}{210}
\dia{d3}{1080}{200}{c03}{rel_has_badge_member}{1081}{213}
\dia{d4}{1333}{61}{c04}{rel_message_conversation}{1333}{73}
\dia{d5}{1338}{140}{c05}{rel_message_member}{1338}{152}
\dia{d6}{1494}{125}{c06}{rel_in_conversation_member}{1494}{137}
\trg{t1}{1227}{295}{ci1}{collaborator_inherits_member}{1229}{306}
\trg{t2}{1365}{318}{ci2}{admin_inherits_member}{1365}{330}
\trg{t3}{1491}{312}{ci3}{partner_inherits_member}{1490}{323}
\dia{d7}{1260}{472}{c07}{rel_collaborator_media2}{1260}{484}
\dia{d8}{1930}{558}{c08}{rel_partner_partnership}{1930}{570}
\dia{d9}{418}{585}{c09}{rel_suggestion_project}{418}{598}
\dia{d10}{307}{613}{c10}{rel_featured_project}{307}{626}
\dia{d11}{401}{641}{c11}{rel_help_project}{401}{654}
\dia{d13}{320}{723}{c13}{rel_share_project}{320}{735}
\dia{d14}{357}{784}{c14}{rel_step_project}{357}{797}
\dia{d15}{466}{581}{c15}{rel_like_project}{467}{594}
\dia{d16}{639}{591}{c16}{rel_in_project_project}{639}{603}
\dia{d17}{666}{691}{c17}{rel_comment_project}{667}{704}
\dia{d18}{667}{755}{c18}{rel_love_project}{668}{768}
\dia{d19}{821}{671}{c19}{rel_project_project}{822}{683}
\dia{d20}{1045}{763}{c20}{rel_project_project1}{1050}{777}
\dia{d21}{425}{892}{c21}{rel_need_project}{426}{905}
\dia{d22}{390}{904}{c22}{rel_answer_standart_question}{391}{917}
\dia{d23}{577}{891}{c23}{rel_answer_custom_question}{563}{904}
\dia{d24}{609}{893}{c24}{rel_contribution_project}{610}{905}
\dia{d25}{737}{349}{c25}{rel_article_member}{737}{361}
\dia{d26}{839}{360}{c26}{rel_suggestion_member}{838}{372}
\dia{d27}{939}{354}{c27}{rel_like_member}{939}{367}
\dia{d28}{728}{394}{c28}{rel_featured_member}{728}{407}
\dia{d29}{905}{397}{c29}{rel_in_project_collaborator}{906}{409}
\dia{d30}{822}{423}{c30}{rel_help_member}{822}{435}
\dia{d31}{917}{504}{c31}{rel_answer_member}{917}{517}
\dia{d32}{961}{575}{c32}{rel_custom_question_member}{961}{587}
\dia{d33}{846}{667}{c33}{rel_comment_member}{847}{679}
\dia{d34}{1063}{536}{c34}{rel_love_member}{1063}{549}
\dia{d35}{1020}{668}{c35}{rel_contribution_member}{1020}{680}
\dia{d38}{944}{675}{c38}{rel_answer_media}{944}{687}
\dia{d39}{1093}{656}{c39}{rel_comment_media}{1093}{669}
\dia{d40}{971}{632}{c40}{rel_project_media}{971}{644}
\dia{d41}{1074}{562}{c41}{rel_in_project_media}{1075}{574}
\dia{d42}{755}{626}{c42}{rel_has_file_media}{755}{639}
\dia{d43}{1323}{587}{c43}{rel_media_media_type}{1317}{599}
\dia{d44}{1195}{752}{c44}{rel_project_theme}{1196}{763}
\dian{d45}{1296}{771}{c45}
\dian{d46}{1329}{771}{c46}
\dia{d47}{1425}{753}{c47}{rel_proposal_theme}{1424}{763}
\dia{d48}{1207}{949}{c48}{rel_member_localisation}{1207}{962}
\dia{d49}{1327}{958}{c49}{rel_proposal_localisation}{1322}{969}
\dia{d50}{1304}{966}{c50}{rel_partnership_localisation}{1304}{977}
\dia{d51}{1425}{943}{c51}{rel_project_localisation}{1426}{955}
\dia{d52}{2045}{712}{c52}{rel_futur_partner_partnership}{2045}{724}
\dia{d53}{1936}{657}{c53}{rel_temporary_media}{1939}{670}
\dia{d54}{2086}{778}{c54}{rel_incubator_partnership}{2086}{790}
\dia{d55}{1814}{822}{c55}{rel_partnership_partnership1}{1814}{834}
\dia{d56}{1738}{730}{c56}{rel_partnership_partnership}{1738}{742}
\dia{d57}{2324}{686}{c57}{rel_friend_partnership1}{2324}{698}
\dia{d58}{2356}{678}{c58}{rel_friend_temporary}{2356}{691}
\dia{d61}{1941}{1196}{c61}{rel_partnership_in_proposal_proposal}{1941}{1209}
\dia{d62}{2170}{1193}{c62}{rel_project_in_proposal_proposal}{2171}{1205}
\dia{d63}{2226}{1186}{c63}{rel_share_proposal}{2227}{1198}
\dia{d64}{2223}{1249}{c64}{rel_has_file_proposal}{2224}{1262}
\dia{d65}{2215}{1327}{c65}{rel_step_proposal}{2216}{1341}
\dia{d66}{1990}{1332}{c66}{rel_answer_proposal}{1990}{1344}
\dia{d67}{1815}{1397}{c67}{rel_answer_question}{1814}{1410}
\dia{d68}{1659}{1077}{c68}{rel_proposal_proposal1}{1658}{1089}
\dia{d69}{1797}{985}{c69}{rel_proposal_proposal}{1797}{996}
\dia{d70}{1743}{947}{c70}{rel_proposal_media1}{1743}{959}
\dia{d71}{1660}{989}{c71}{rel_answer_media1}{1660}{1002}
\dia{d72}{1873}{908}{c72}{rel_has_file_media1}{1872}{920}
\dia{d73}{2021}{946}{c73}{rel_partnership_in_proposal_partnership}{2022}{959}
\dia{d74}{2135}{936}{c74}{rel_partnership_in_proposal_temporary}{2135}{948}
\dia{d75}{1040}{1105}{c75}{rel_custom_question_proposal}{1040}{1117}
\trg{t4}{275}{1224}{ci4}{other_need_inherits_need}{276}{1235}
\trg{t5}{365}{1222}{ci5}{financial_need_inherits_need}{366}{1234}
\trg{t6}{637}{1231}{ci6}{financial_contribution_inherits_contribution}{638}{1243}
\trg{t7}{753}{1230}{ci7}{other_contribution_inherits_contribution}{751}{1242}
% ---------- connectors
\rel{c01}{r1}{180}{d1}{cat1}{0}
\rel{c02}{r2}{180}{d2}{ctl1}{0}
\rel{c03}{r3}{0}{d3}{m1w}{180}
\rel{c04}{r4}{180}{d4}{conv1}{0}
\rel{c05}{r5}{180}{d5}{m1w}{90}
\rel{c06}{r6}{180}{d6}{m1e}{0}
\inh{ci1}{i1c}{t1}{i1p}
\inh{ci2}{adm-h.north}{t2}{mem-f.south}
\inh{ci3}{i3c}{t3}{i3p}
\rel{c07}{r7}{0}{d7}{md1w}{180}
\rel{c08}{r8}{0}{d8}{pa1w}{180}
\rel{c09}{r9}{0}{d9}{p1w}{135}
\rel{c10}{r10}{0}{d10}{p1w}{180}
\rel{c11}{r11}{0}{d11}{p1w}{180}
\reln{c12}{r12}{0}{p1w}{180}
\rel{c13}{r13}{0}{d13}{p1w}{200}
\rel{c14}{r14}{0}{d14}{p1w}{240}
\rel{c15}{r15}{180}{d15}{p1w}{90}
\rel{c16}{r16}{180}{d16}{p1e}{45}
\rel{c17}{r17}{180}{d17}{p1e}{330}
\rel{c18}{r18}{180}{d18}{p1e}{300}
\rel{c19}{r19}{180}{d19}{p1e}{0}
\rel{c20}{r20}{180}{d20}{p1e}{0}
\rel{c21}{r21}{0}{d21}{p1w}{270}
\rel{c22}{r22}{180}{d22}{sq1w}{90}
\rel{c23}{r23}{0}{d23}{cq1e}{90}
\rel{c24}{r24}{180}{d24}{prj-f.south}{270}
\reln{c37}{r37}{0}{prj-f.south}{270}
\rel{c25}{r25}{0}{d25}{m1w}{180}
\rel{c26}{r26}{0}{d26}{m1w}{180}
\rel{c27}{r27}{0}{d27}{m1w}{180}
\rel{c28}{r28}{0}{d28}{m1w}{180}
\rel{c29}{r29}{0}{d29}{m1w}{180}
\rel{c30}{r30}{0}{d30}{m1w}{180}
\rel{c31}{r31}{0}{d31}{m1w}{180}
\rel{c32}{r32}{0}{d32}{m1w}{180}
\rel{c33}{r33}{0}{d33}{m1w}{180}
\rel{c34}{r34}{0}{d34}{m1w}{180}
\rel{c35}{r35}{0}{d35}{m1w}{180}
\reln{c36}{r36}{0}{m1w}{180}
\rel{c38}{r38}{0}{d38}{md1w}{180}
\rel{c39}{r39}{0}{d39}{md1w}{180}
\rel{c40}{r40}{0}{d40}{md1w}{180}
\rel{c41}{r41}{0}{d41}{md1w}{180}
\rel{c42}{r42}{0}{d42}{md1w}{180}
\rel{c43}{r43}{180}{d43}{mt1}{0}
\rel{c44}{r44}{0}{d44}{thw}{180}
\rel{c45}{r45}{0}{d45}{c45p}{90}
\rel{c46}{r46}{180}{d46}{c46p}{90}
\rel{c47}{r47}{180}{d47}{the}{0}
\rel{c48}{r48}{0}{d48}{low}{180}
\rel{c49}{r49}{0}{d49}{c49p}{90}
\rel{c50}{r50}{180}{d50}{c50p}{90}
\rel{c51}{r51}{180}{d51}{loe}{0}
\rel{c52}{r52}{0}{d52}{pa1w}{180}
\rel{c53}{r53}{180}{d53}{md1e}{0}
\rel{c54}{r54}{0}{d54}{pa1w}{180}
\rel{c55}{r55}{0}{d55}{pa1w}{180}
\rel{c56}{r56}{0}{d56}{pa1w}{180}
\rel{c57}{r57}{0}{d57}{pa1e}{90}
\rel{c58}{r58}{0}{d58}{tp1w}{180}
\reln{c59}{r59}{180}{md1e}{0}
\reln{c57}{r60}{0}{pa1e}{90}
\rel{c61}{r61}{0}{d61}{pr1w}{180}
\rel{c62}{r62}{0}{d62}{pr1e}{0}
\rel{c63}{r63}{180}{d63}{pr1e}{0}
\rel{c64}{r64}{180}{d64}{pr1e}{0}
\rel{c65}{r65}{180}{d65}{pr1e}{0}
\rel{c66}{r66}{0}{d66}{pr1w}{225}
\rel{c67}{r67}{180}{d67}{q1e}{0}
\rel{c68}{r68}{0}{d68}{pr1w}{180}
\rel{c69}{r69}{0}{d69}{pr1w}{180}
\rel{c70}{r70}{180}{d70}{md1e}{0}
\rel{c71}{r71}{180}{d71}{md1e}{0}
\rel{c72}{r72}{180}{d72}{md1e}{0}
\rel{c73}{r73}{0}{d73}{psh-f.south}{270}
\rel{c74}{r74}{0}{d74}{tmp-f.south}{270}
\rel{c75}{r75}{0}{d75}{pr1w}{180}
\inh{ci4}{i4c}{t4}{i4p}
\inh{ci5}{i5c}{t5}{i5p}
\inh{ci6}{i6c}{t6}{i6p}
\inh{ci7}{i7c}{t7}{i7p}
\end{tikzpicture}
\end{document}
